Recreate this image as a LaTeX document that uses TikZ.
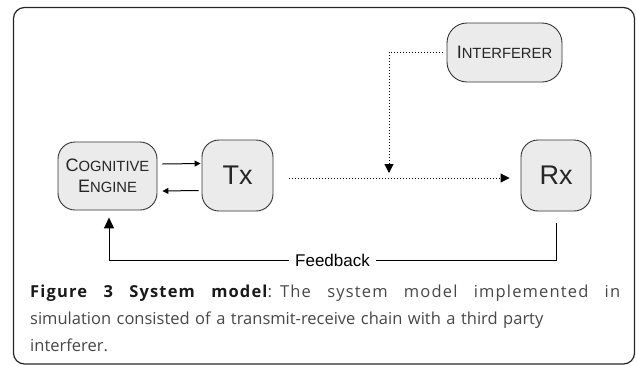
\documentclass[tikz,border=0pt]{standalone}
\usepackage{fontspec}
\setmainfont{Liberation Sans}
\newfontfamily\capfont{Open Sans}
\newfontfamily\capfontwide[LetterSpace=7]{Open Sans}
\usetikzlibrary{arrows.meta}
\definecolor{boxfill}{HTML}{EBEBEB}
\definecolor{boxline}{HTML}{333333}
\definecolor{captext}{HTML}{474747}
\tikzset{
  blk/.style={draw=boxline, line width=0.9pt, fill=boxfill, rounded corners=17pt, inner sep=0pt, align=center, text=black!85},
  solidarrow/.style={line width=1pt, -{Triangle[length=6pt,width=6pt]}},
  dotarrow/.style={line width=1pt, dotted, -{Triangle[length=9pt,width=9pt]}},
  dotline/.style={line width=1pt, dotted},
  fbarrow/.style={line width=1pt, -{Triangle[length=11pt,width=10pt]}},
}
\newcommand{\scap}[2]{{\fontsize{18}{21}\selectfont #1}{\fontsize{14.8}{21}\selectfont #2}}
\begin{document}
\begin{tikzpicture}[x=1pt,y=-1pt]
\useasboundingbox (0,0) rectangle (637,365);
\draw[line width=1.2pt, black!85, rounded corners=11pt] (13.5,7.5) rectangle (634.5,364);
\node[blk, minimum width=99pt, minimum height=68pt, font=\fontsize{18}{21}\selectfont] (ce) at (107.5,176) {\scap{C}{OGNITIVE}\\\scap{E}{NGINE}};
\node[blk, minimum width=71pt, minimum height=71pt] (tx) at (237.5,175.5) {\fontsize{27}{30}\selectfont Tx};
\node[blk, minimum width=70pt, minimum height=71pt] (rx) at (556,175.5) {\fontsize{27}{30}\selectfont Rx};
\node[blk, minimum width=115pt, minimum height=59pt, rounded corners=20pt] (intf) at (504.5,52.5) {\scap{I}{NTERFERER}};
\coordinate (bend) at (389,52);
\coordinate (tip) at (389,173);
\coordinate (fbr) at (556,260);
\coordinate (fbl) at (109,260);
\draw[solidarrow] ([xshift=5pt,yshift=12pt]ce.east) -- ([xshift=-1pt,yshift=12pt]tx.west);
\draw[solidarrow] ([xshift=-3pt,yshift=-15pt]tx.west) -- ([xshift=5pt,yshift=-15pt]ce.east);
\draw[dotarrow] ([xshift=16pt,yshift=-2.5pt]tx.east) -- ([xshift=-11pt,yshift=-2.5pt]rx.west);
\draw[dotline] ([xshift=-4pt]intf.west |- bend) -- (bend);
\draw[dotarrow] (bend) -- (tip);
\draw[line width=1pt] ([yshift=-12pt]rx.south) -- (fbr) -- node[fill=white, inner xsep=6pt, font=\fontsize{17}{20}\selectfont] (fb) {Feedback} (fbl);
\draw[fbarrow] (fbl) -- ([yshift=-7pt]ce.south -| fbl);
\node[anchor=base west, inner sep=0pt, text width=590pt, align=left, font=\capfont\fontsize{16.5}{27}\selectfont, text=captext] (cap) at (30,297)
 {\hbox to 590pt{\capfontwide\fontsize{16.5}{27}\selectfont\spaceskip=6pt plus 1fil\textbf{\color{black!90}Figure 3 System model}: The system model implemented in}\\
 simulation consisted of a transmit-receive chain with a third party\\
 interferer.};
\end{tikzpicture}
\end{document}
